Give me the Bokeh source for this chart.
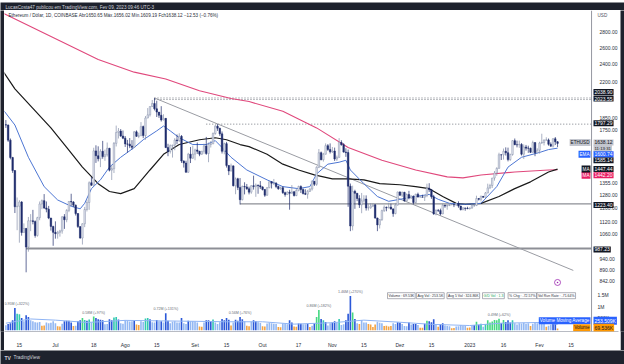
import pandas as pd
from bokeh.plotting import figure
from bokeh.layouts import column, row
from bokeh.models import (Range1d, LinearScale, FixedTicker, PrintfTickFormatter,
                          Label, ColumnDataSource, Span)
from bokeh.embed import file_html
from bokeh.resources import INLINE

# ------------------------------------------------------------------ data
FIRST_DATE = "2022-06-09"
FIRST_OPEN = 1793.0

close_jun = [1789, 1664, 1530, 1437, 1207, 1210, 1235, 1066, 1087, 994, 1128, 1128, 1124, 1051, 1145, 1223, 1243, 1200, 1193, 1143, 1098, 1067]
high_jun = [1833, 1794, 1677, 1535, 1440, 1262, 1246, 1240, 1114, 1090, 1149, 1165, 1189, 1130, 1150, 1238, 1250, 1283, 1238, 1212, 1144, 1101]
low_jun = [1765, 1650, 1517, 1421, 1171, 1078, 1015, 1050, 1068, 880, 972, 1073, 1109, 1040, 1045, 1131, 1193, 1194, 1175, 1137, 1076, 1000]

close_jul = [1060, 1067, 1074, 1150, 1134, 1186, 1238, 1235, 1216, 1168, 1097, 1038, 1112, 1191, 1232, 1355, 1339, 1580, 1543, 1521, 1577, 1537, 1551, 1600, 1440, 1450, 1638, 1726, 1738, 1697, 1680]
high_jul = [1125, 1075, 1080, 1153, 1165, 1193, 1240, 1285, 1240, 1220, 1170, 1097, 1114, 1206, 1250, 1364, 1394, 1604, 1623, 1615, 1593, 1658, 1590, 1645, 1603, 1475, 1649, 1785, 1764, 1755, 1743]
low_jul = [1035, 1035, 1045, 1060, 1085, 1120, 1176, 1212, 1205, 1157, 1090, 1035, 1006, 1094, 1180, 1189, 1335, 1336, 1491, 1502, 1461, 1521, 1506, 1537, 1431, 1373, 1420, 1614, 1677, 1690, 1672]

close_aug = [1634, 1632, 1618, 1607, 1732, 1695, 1699, 1776, 1701, 1851, 1880, 1956, 1985, 1935, 1905, 1876, 1834, 1848, 1605, 1575, 1620, 1625, 1665, 1660, 1695, 1505, 1490, 1425, 1555, 1525, 1555]
high_aug = [1697, 1666, 1681, 1664, 1739, 1744, 1725, 1815, 1785, 1869, 1942, 1958, 2019, 2038.9, 2012, 1905, 1960, 1885, 1848, 1635, 1630, 1627, 1680, 1710, 1720, 1705, 1509, 1507, 1565, 1610, 1620]
low_aug = [1610, 1567, 1601, 1590, 1605, 1690, 1680, 1699, 1680, 1667, 1850, 1864, 1955, 1920, 1860, 1852, 1820, 1830, 1602, 1540, 1560, 1530, 1585, 1633, 1650, 1491, 1458, 1424, 1422, 1490, 1520]

close_sep = [1587, 1577, 1555, 1577, 1618, 1560, 1630, 1635, 1718, 1780, 1762, 1715, 1577, 1636, 1473, 1434, 1470, 1336, 1381, 1325, 1249, 1331, 1328, 1316, 1295, 1336, 1330, 1339, 1336, 1328]
high_sep = [1597, 1645, 1580, 1580, 1636, 1690, 1645, 1657, 1727, 1790, 1797, 1766, 1735, 1644, 1650, 1474, 1486, 1470, 1390, 1388, 1386, 1337, 1358, 1347, 1330, 1338, 1402, 1350, 1343, 1366]
low_sep = [1510, 1557, 1540, 1550, 1558, 1550, 1496, 1606, 1632, 1708, 1740, 1698, 1560, 1554, 1458, 1406, 1431, 1331, 1282, 1308, 1220, 1244, 1281, 1310, 1281, 1285, 1311, 1266, 1285, 1315]

close_oct = [1311, 1276, 1323, 1362, 1352, 1352, 1331, 1316, 1323, 1292, 1280, 1295, 1288, 1297, 1274, 1306, 1331, 1311, 1286, 1282, 1300, 1315, 1365, 1345, 1460, 1566, 1514, 1555, 1620, 1591, 1573]
high_oct = [1332, 1315, 1327, 1365, 1365, 1380, 1359, 1336, 1330, 1332, 1298, 1300, 1310, 1340, 1303, 1316, 1336, 1338, 1318, 1313, 1309, 1319, 1370, 1366, 1467, 1594, 1575, 1565, 1638, 1633, 1638]
low_oct = [1306, 1266, 1272, 1320, 1318, 1340, 1320, 1310, 1310, 1284, 1267, 1280, 1190, 1286, 1268, 1270, 1300, 1290, 1281, 1277, 1255, 1296, 1305, 1334, 1335, 1454, 1510, 1500, 1552, 1580, 1560]

close_nov = [1579, 1519, 1531, 1645, 1628, 1571, 1567, 1333, 1100, 1300, 1288, 1256, 1218, 1242, 1253, 1200, 1201, 1211, 1218, 1143, 1106, 1135, 1185, 1204, 1201, 1205, 1194, 1168, 1217, 1296]
high_nov = [1610, 1605, 1545, 1680, 1663, 1640, 1600, 1590, 1350, 1336, 1310, 1289, 1276, 1290, 1276, 1275, 1225, 1229, 1227, 1222, 1145, 1137, 1190, 1215, 1208, 1230, 1225, 1198, 1230, 1298]
low_nov = [1564, 1505, 1505, 1530, 1620, 1567, 1535, 1207, 1073, 1077, 1195, 1240, 1200, 1170, 1231, 1185, 1185, 1195, 1205, 1140, 1073, 1087, 1127, 1177, 1181, 1197, 1190, 1150, 1164, 1214]

close_dec = [1276, 1294, 1241, 1280, 1259, 1270, 1232, 1282, 1265, 1265, 1264, 1274, 1320, 1310, 1266, 1166, 1186, 1185, 1166, 1216, 1211, 1214, 1219, 1220, 1218, 1226, 1211, 1190, 1200, 1198, 1196]
high_dec = [1300, 1298, 1297, 1287, 1303, 1276, 1274, 1285, 1292, 1272, 1279, 1277, 1349, 1352, 1315, 1278, 1192, 1194, 1196, 1226, 1219, 1220, 1228, 1225, 1224, 1228, 1239, 1213, 1205, 1200, 1207]
low_dec = [1272, 1265, 1238, 1240, 1251, 1254, 1221, 1228, 1262, 1263, 1263, 1241, 1264, 1296, 1254, 1161, 1158, 1177, 1158, 1165, 1201, 1190, 1211, 1216, 1205, 1212, 1201, 1186, 1187, 1184, 1193]

close_jan = [1200, 1214, 1214, 1256, 1251, 1269, 1263, 1290, 1322, 1337, 1386, 1420, 1452, 1551, 1550, 1577, 1566, 1515, 1552, 1660, 1628, 1627, 1630, 1555, 1610, 1601, 1600, 1569, 1645, 1566, 1585]
high_jan = [1202, 1222, 1220, 1273, 1258, 1274, 1270, 1296, 1349, 1348, 1387, 1434, 1460, 1566, 1553, 1598, 1607, 1605, 1559, 1663, 1677, 1660, 1660, 1640, 1630, 1626, 1620, 1605, 1660, 1645, 1600]
low_jan = [1191, 1195, 1206, 1211, 1244, 1238, 1262, 1262, 1288, 1314, 1321, 1369, 1401, 1452, 1512, 1515, 1545, 1502, 1506, 1544, 1624, 1607, 1603, 1545, 1519, 1582, 1565, 1564, 1568, 1540, 1564]

close_feb = [1641, 1645, 1664, 1666, 1631, 1616, 1675, 1650.65, 1638.12]
high_feb = [1651, 1716, 1670, 1687, 1677, 1646, 1680, 1689, 1656.02]
low_feb = [1559, 1635, 1622, 1661, 1620, 1613, 1606, 1625, 1609.19]

# daily volume, thousands of ETH
volume_jun = [210, 270, 300, 420, 950, 700, 680, 520, 380, 640, 560, 430, 380, 340, 330, 350, 190, 200, 330, 300, 320, 380]
volume_jul = [300, 170, 160, 280, 380, 400, 400, 330, 180, 190, 380, 420, 520, 440, 400, 460, 330, 580, 520, 470, 450, 430, 250, 270, 470, 420, 540, 560, 460, 300, 280]
volume_aug = [420, 400, 370, 380, 420, 240, 220, 380, 350, 500, 520, 470, 340, 330, 440, 380, 380, 330, 720, 400, 300, 360, 380, 330, 330, 520, 300, 260, 400, 380, 380]
volume_sep = [370, 330, 160, 150, 330, 430, 420, 390, 460, 330, 270, 340, 480, 430, 520, 450, 200, 330, 450, 400, 560, 470, 380, 190, 170, 360, 420, 380, 340, 310]
volume_oct = [170, 160, 290, 320, 300, 280, 260, 140, 130, 290, 270, 250, 430, 330, 160, 150, 290, 280, 250, 250, 280, 140, 190, 300, 560, 860, 480, 420, 350, 200, 300]
volume_nov = [330, 380, 320, 480, 220, 250, 420, 700, 1460, 750, 480, 300, 260, 440, 330, 330, 260, 240, 140, 240, 360, 320, 300, 180, 190, 160, 180, 300, 260, 340]
volume_dec = [320, 270, 180, 170, 330, 240, 260, 260, 220, 110, 110, 280, 400, 380, 340, 470, 220, 150, 270, 300, 200, 180, 170, 80, 90, 160, 170, 220, 190, 180, 110]
volume_jan = [120, 210, 220, 360, 230, 280, 150, 260, 420, 330, 370, 440, 420, 490, 300, 440, 350, 420, 330, 420, 300, 240, 300, 290, 320, 280, 300, 180, 280, 340, 300]
volume_feb = [310, 320, 280, 150, 190, 230, 310, 300, 69.536]

# indicator lines
ema_dates = ["2022-06-08", "2022-06-13", "2022-06-19", "2022-06-26", "2022-07-02", "2022-07-08", "2022-07-12",
             "2022-07-14", "2022-07-17", "2022-07-21", "2022-07-25", "2022-07-30", "2022-08-05", "2022-08-09",
             "2022-08-15", "2022-08-18", "2022-08-21", "2022-08-25", "2022-08-31", "2022-09-06", "2022-09-10",
             "2022-09-13", "2022-09-17", "2022-09-24", "2022-10-03", "2022-10-10", "2022-10-17", "2022-10-22",
             "2022-10-25", "2022-10-30", "2022-11-04", "2022-11-07", "2022-11-09", "2022-11-15", "2022-11-21",
             "2022-11-26", "2022-12-01", "2022-12-08", "2022-12-14", "2022-12-18", "2022-12-23", "2022-12-30",
             "2023-01-06", "2023-01-13", "2023-01-18", "2023-01-24", "2023-02-01", "2023-02-05", "2023-02-09"]
ema_vals = [1921, 1790, 1532, 1330, 1247, 1210, 1195, 1227, 1317, 1374, 1461, 1532, 1606, 1667,
            1740, 1781, 1740, 1683, 1629, 1629, 1660, 1606, 1532, 1441, 1374, 1330, 1317, 1330,
            1414, 1482, 1496, 1510, 1441, 1349, 1268, 1239, 1251, 1268, 1281, 1251, 1227, 1221,
            1227, 1330, 1461, 1532, 1568, 1590, 1600.74]

ma50_dates = ["2022-06-08", "2022-06-13", "2022-06-21", "2022-06-29", "2022-07-06", "2022-07-13", "2022-07-20",
              "2022-07-25", "2022-07-30", "2022-08-05", "2022-08-12", "2022-08-18", "2022-08-25", "2022-09-03",
              "2022-09-10", "2022-09-15", "2022-09-21", "2022-09-25", "2022-10-03", "2022-10-10", "2022-10-17",
              "2022-10-24", "2022-11-01", "2022-11-08", "2022-11-15", "2022-11-22", "2022-12-01", "2022-12-08",
              "2022-12-14", "2022-12-20", "2022-12-26", "2022-12-30", "2023-01-06", "2023-01-14", "2023-01-21",
              "2023-01-28", "2023-02-05", "2023-02-09"]
ma50_vals = [2309, 2131, 1939, 1765, 1606, 1461, 1349, 1299, 1286, 1317, 1441, 1554, 1629, 1667,
             1683, 1667, 1629, 1613, 1554, 1482, 1441, 1407, 1381, 1381, 1374, 1349, 1342, 1330,
             1317, 1268, 1227, 1221, 1227, 1268, 1317, 1361, 1427, 1447.44]

ma200_dates = ["2022-06-08", "2022-07-02", "2022-07-20", "2022-08-05", "2022-08-19", "2022-09-03", "2022-09-17",
               "2022-09-25", "2022-10-10", "2022-10-25", "2022-11-08", "2022-11-23", "2022-12-08", "2022-12-22",
               "2022-12-29", "2023-01-06", "2023-01-21", "2023-02-05", "2023-02-09"]
ma200_vals = [3064, 2698, 2455, 2309, 2234, 2111, 2033, 2004, 1912, 1765, 1606, 1510, 1441, 1394,
              1387, 1407, 1427, 1441, 1442.20]

vma_dates = ["2022-06-09", "2022-06-20", "2022-07-01", "2022-07-15", "2022-08-01", "2022-08-15", "2022-09-01",
             "2022-09-15", "2022-10-01", "2022-10-15", "2022-11-01", "2022-11-15", "2022-12-01", "2022-12-15",
             "2023-01-01", "2023-01-15", "2023-02-01", "2023-02-09"]
vma_vals_k = [300, 480, 430, 330, 420, 400, 380, 360, 360, 260, 320, 430, 340, 250, 200, 300, 330, 253.509]

# drawn levels and trend line
level_vals = [2038.90, 2023.55, 1797.29, 1223.40, 987.23]
level_start = ["2022-08-14", "2022-08-14", "2022-09-06", "2022-09-21", "2022-06-18"]
trend_dates = ["2022-08-14", "2023-02-16"]
trend_vals = [2038.90, 888.0]

# volume notes
vol_note_dates = ["2022-06-13", "2022-07-18", "2022-08-19", "2022-09-21", "2022-10-26", "2022-11-09", "2023-01-14"]
vol_note_text = ["0.95M (+322%)", "0.58M (+97%)", "0.72M (+131%)", "0.56M (+76%)", "0.86M (+182%)",
                 "1.46M (+270%)", "0.49M (+62%)"]

# axes
time_tick_dates = ["2022-06-15", "2022-07-01", "2022-07-18", "2022-08-01", "2022-08-15", "2022-09-01",
                   "2022-09-15", "2022-10-01", "2022-10-17", "2022-11-01", "2022-11-15", "2022-12-01",
                   "2022-12-15", "2023-01-01", "2023-01-16", "2023-02-01", "2023-02-15"]
time_tick_labels = ["15", "Jul", "18", "Ago", "15", "Set", "15", "Out", "17", "Nov", "15", "Dez", "15",
                    "2023", "16", "Fev", "15"]
price_ticks = [842, 890, 940, 1060, 1120, 1200, 1280, 1355, 1750, 1850, 2200, 2400, 2600, 2800]
vol_ticks = [500000, 1000000, 1500000]
vol_tick_labels = ["500K", "1M", "1.5M"]

stats_text = ["Volume : 69.53K", "Avg Vol : 253.5K", "Avg 5 Vol : 324.86K", "G/D Vol : 1.3",
              "% Chg : -72.57%", "Vol Run Rate : -71.64%"]

# ------------------------------------------------------------------ assemble
close = close_jun + close_jul + close_aug + close_sep + close_oct + close_nov + close_dec + close_jan + close_feb
high = high_jun + high_jul + high_aug + high_sep + high_oct + high_nov + high_dec + high_jan + high_feb
low = low_jun + low_jul + low_aug + low_sep + low_oct + low_nov + low_dec + low_jan + low_feb
volume = [v * 1000 for v in (volume_jun + volume_jul + volume_aug + volume_sep + volume_oct +
                             volume_nov + volume_dec + volume_jan + volume_feb)]
dates = pd.date_range(FIRST_DATE, periods=len(close), freq="D")
opens = [FIRST_OPEN] + close[:-1]

DAY = 86400000.0
def ms(s):
    return pd.Timestamp(s).value / 1e6

DARK = "#1e222d"
UP_FILL, UP_LINE, DOWN = "#e4e7f1", "#8790aa", "#1f2c6c"
FONT = "Liberation Sans"

up = [c >= o for o, c in zip(opens, close)]
vs = pd.Series(volume)
rel = (vs / vs.rolling(20, min_periods=1).mean()).tolist()

def vol_color(r, u):
    if u and r > 1.5:
        return "#45d882"
    if u and r > 1.25:
        return "#33c9b1"
    if r > 1.0:
        return "#2b58d8"
    if r > 0.62:
        return "#93b8f3"
    return "#f4a444"

src = ColumnDataSource(dict(
    x=dates, o=opens, h=high, l=low, c=close,
    top=[max(o, c) for o, c in zip(opens, close)],
    bot=[min(o, c) for o, c in zip(opens, close)],
    fill=[UP_FILL if u else DOWN for u in up],
    line=[UP_LINE if u else DOWN for u in up],
    v=volume,
    vcol=[vol_color(r, u) for r, u in zip(rel, up)],
))

# ------------------------------------------------------------------ main figure
JUL1 = ms("2022-07-01")
x_view = (JUL1 - 22.61 * DAY, JUL1 + 250.07 * DAY)   # whole pane incl. price scale
x_scale_edge = JUL1 + 238.1 * DAY                     # where the price scale begins

MAIN_W, MAIN_H = 616, 340
p = figure(width=MAIN_W, height=MAIN_H, x_range=Range1d(*x_view), y_range=Range1d(661.6, 3108.0),
           y_axis_type="log", y_axis_location="right", output_backend="svg", toolbar_location=None,
           min_border_left=0, min_border_right=1, min_border_top=0, min_border_bottom=12,
           background_fill_color="white", border_fill_color="white", outline_line_color=None)
p.extra_y_ranges = {"vol": Range1d(-54000, 13612000)}
p.extra_y_scales = {"vol": LinearScale()}
p.grid.visible = False

tick_ms = [ms(d) for d in time_tick_dates]
p.xaxis.ticker = FixedTicker(ticks=tick_ms)
p.xaxis.major_label_overrides = {t: lab for t, lab in zip(tick_ms, time_tick_labels)}
p.yaxis.ticker = FixedTicker(ticks=price_ticks, minor_ticks=[])
p.yaxis.formatter = PrintfTickFormatter(format="%.2f")
for ax in p.axis:
    ax.major_label_text_font_size = "5px"
    ax.major_label_text_font = FONT
    ax.major_label_text_color = "#2a2e39"
    ax.major_tick_line_color = None
    ax.minor_tick_line_color = None
p.xaxis.axis_line_color = "#b8bbc3"
p.yaxis.axis_line_color = None
p.yaxis.major_label_standoff = -25
p.xaxis.major_label_standoff = 4

# price scale separator
p.add_layout(Span(location=x_scale_edge, dimension="height", line_color="#9598a1", line_width=1))

# volume
p.vbar(x="x", width=0.72 * DAY, top="v", bottom=0, fill_color="vcol", line_color=None,
       y_range_name="vol", source=src)
p.line(x=pd.to_datetime(vma_dates), y=[v * 1000 for v in vma_vals_k], line_color="#8fb4f4",
       line_width=1, y_range_name="vol")

# levels
lv_solid = [i for i in range(len(level_vals)) if level_vals[i] < 1500]
lv_dot = [i for i in range(len(level_vals)) if level_vals[i] >= 1500]
p.segment(x0=[ms(level_start[i]) for i in lv_dot], y0=[level_vals[i] for i in lv_dot],
          x1=[x_scale_edge] * len(lv_dot), y1=[level_vals[i] for i in lv_dot],
          line_color="#555a66", line_width=0.8, line_dash="1 2")
p.segment(x0=[ms(level_start[i]) for i in lv_solid], y0=[level_vals[i] for i in lv_solid],
          x1=[x_scale_edge] * len(lv_solid), y1=[level_vals[i] for i in lv_solid],
          line_color="#8d8f96", line_width=[1.2, 2.0])
p.line(x=pd.to_datetime(trend_dates), y=trend_vals, line_color="#9a9ca3", line_width=1)

# moving averages
p.line(x=pd.to_datetime(ma200_dates), y=ma200_vals, line_color="#e0487c", line_width=1.1)
p.line(x=pd.to_datetime(ma50_dates), y=ma50_vals, line_color="#1a1a1a", line_width=1.2)
p.line(x=pd.to_datetime(ema_dates), y=ema_vals, line_color="#4d76d3", line_width=1)

# candles
p.segment(x0="x", y0="l", x1="x", y1="h", line_color="line", line_width=0.7, source=src)
p.vbar(x="x", width=0.68 * DAY, top="top", bottom="bot", fill_color="fill", line_color="line",
       line_width=0.5, source=src)

# event marker near the last bar
p.scatter(x=[dates[-1]], y=[838], size=6, marker="circle", fill_color="white",
          line_color="#9c27b0", line_width=0.8)
p.scatter(x=[dates[-1]], y=[838], size=1.6, marker="circle", fill_color="#9c27b0", line_color=None)


def lab(fig, text, x, y, size="5px", color="#2a2e39", bg=None, align="left", yname=None,
        yoff=0, xoff=0, xunits="screen", border=None, pad=1):
    kw = dict(x=x, y=y, x_units=xunits, y_units="data", text=text, text_font_size=size,
              text_font=FONT, text_color=color, text_align=align, text_baseline="middle",
              y_offset=yoff, x_offset=xoff)
    if bg is not None:
        kw["background_fill_color"] = bg
    if border is not None:
        kw["border_line_color"] = border
        kw["border_line_width"] = 0.6
    if yname is not None:
        kw["y_range_name"] = yname
    try:
        L = Label(padding=pad, **kw)
    except Exception:
        L = Label(**kw)
    fig.add_layout(L)


TAG_X = 589      # just right of the price-scale edge (frame px)
BOX_R = 586      # right edge of the name boxes left of the scale
BLACK = "#131722"
# header legend inside the pane
lab(p, "Ethereum / Dólar, 1D, COINBASE  Abr1650.65  Máx.1656.02  Mín.1609.19  Fch1638.12  −12.53 (−0.76%)",
    3, 3036, size="4.6px", color="#2a2e39")
lab(p, "USD", 592, 3036, size="4.6px", color="#50535e")

# price-scale tags
tags = [("2038.90", 2038.90, 6), ("2023.55", 2023.55, 1), ("1797.29", 1797.29, 1),
        ("1223.40", 1223.40, -1), ("987.23", 987.23, -1)]
for t, v, off in tags:
    lab(p, t, TAG_X, v, color="white", bg=BLACK, yoff=off)

last_close = close[-1]
lab(p, "11:13:31", TAG_X, last_close, size="4.3px", color="#131722", bg="#c3c6ce", yoff=-5)
lab(p, "%.2f" % last_close, TAG_X, last_close, color="#131722", bg="#c3c6ce", yoff=1)
lab(p, "ETHUSD", BOX_R, last_close, size="4.6px", color="#131722", bg="#c3c6ce", align="right", yoff=1)
lab(p, "1585.14", TAG_X, 1585.14, color="white", bg=BLACK, yoff=-10)
lab(p, "%.2f" % ema_vals[-1], TAG_X, ema_vals[-1], color="white", bg="#2962ff", yoff=-6)
lab(p, "EMA", BOX_R, ema_vals[-1], size="4.6px", color="white", bg="#2962ff", align="right", yoff=-6)
lab(p, "%.2f" % ma200_vals[-1], TAG_X, ma200_vals[-1], color="white", bg="#e91e63", yoff=-5.5)
lab(p, "MA", BOX_R, ma200_vals[-1], size="4.6px", color="white", bg="#e91e63", align="right", yoff=-5.5)
lab(p, "%.2f" % ma50_vals[-1], TAG_X, ma50_vals[-1], color="white", bg=BLACK, yoff=0)
lab(p, "MA", BOX_R, ma50_vals[-1], size="4.6px", color="white", bg=BLACK, align="right", yoff=0)

# volume scale labels
for v, t in zip(vol_ticks, vol_tick_labels):
    lab(p, t, 592, v, size="5px", color="#2a2e39", yname="vol")
lab(p, "%.3fK" % vma_vals_k[-1], TAG_X, 404000, color="white", bg="#2962ff", yname="vol")
lab(p, "Volume Moving Average", BOX_R, 404000, size="4.6px", color="white", bg="#2962ff",
    align="right", yname="vol")
lab(p, "%.3fK" % volume_feb[-1], TAG_X, 110000, color="#131722", bg="#ff9800", yname="vol")
lab(p, "Volume", BOX_R, 110000, size="4.6px", color="#131722", bg="#ff9800", align="right",
    yname="vol")

# volume notes above bars
vol_by_date = dict(zip([d.strftime("%Y-%m-%d") for d in dates], volume))
for i, (d, t) in enumerate(zip(vol_note_dates, vol_note_text)):
    lab(p, t, ms(d), vol_by_date[d], size="3.6px", color="#6a6d78", align="center",
        yname="vol", yoff=4, xoff=(2 if i == 0 else 0), xunits="data")

# stats box
sx = 383
for t in stats_text:
    col = "#26a65b" if t.startswith("G/D") else "#2a2e39"
    lab(p, t, sx, 1470000, size="3.5px", color=col, bg="white", yname="vol", border="#787b86")
    sx += len(t) * 1.66 + 4

# ------------------------------------------------------------------ bands
def band(w, h):
    f = figure(width=w, height=h, x_range=Range1d(0, w), y_range=Range1d(0, h),
               toolbar_location=None, output_backend="svg", x_axis_location=None,
               y_axis_location=None, min_border=0, background_fill_color=DARK,
               border_fill_color=DARK, outline_line_color=None)
    f.grid.visible = False
    return f

header = band(624, 10)
header.add_layout(Label(x=5, y=5, x_units="data", y_units="data",
                        text="LucasCosta47 publicou em TradingView.com, Fev 09, 2023 09:46 UTC-3",
                        text_font_size="4.6px", text_font=FONT, text_color="#d1d4dc",
                        text_baseline="middle"))
footer = band(624, 14)
footer.add_layout(Label(x=4, y=7, x_units="data", y_units="data", text="TV",
                        text_font_size="5px", text_font=FONT, text_font_style="bold",
                        text_color="#d1d4dc", text_baseline="middle"))
footer.add_layout(Label(x=13, y=7, x_units="data", y_units="data", text="TradingView",
                        text_font_size="4.8px", text_font=FONT, text_color="#d1d4dc",
                        text_baseline="middle"))
left_strip = band(4, MAIN_H)
right_strip = band(4, MAIN_H)

layout = column(header, row(left_strip, p, right_strip), footer)
open("out.html", "w").write(file_html(layout, INLINE))
